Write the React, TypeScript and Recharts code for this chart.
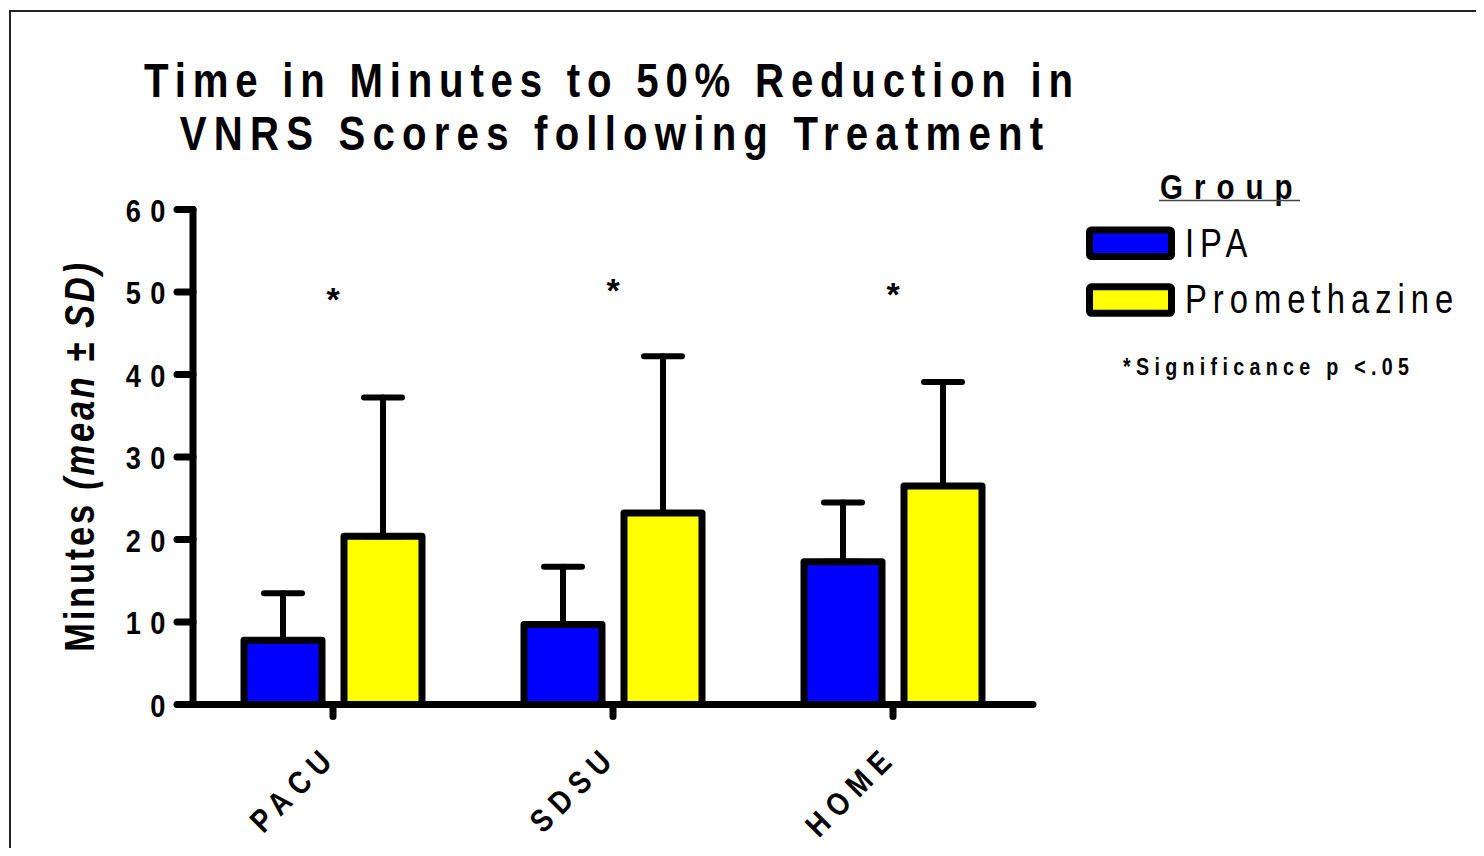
import React from "react";
import { ComposedChart, Bar, Line, XAxis, YAxis, ErrorBar } from "recharts";

const categories = ["PACU", "SDSU", "HOME"];
const ipaMean = [7.8, 9.7, 17.3];
const ipaSD = [5.7, 7.0, 7.2];
const promMean = [20.4, 23.2, 26.5];
const promSD = [16.8, 19.0, 12.6];
const starLevel = [50.0, 51.1, 50.6];
const yTicks = [0, 10, 20, 30, 40, 50, 60];

const data = categories.map((name, i) => ({
  name,
  ipa: ipaMean[i],
  ipaErr: [0, ipaSD[i]],
  prom: promMean[i],
  promErr: [0, promSD[i]],
  star: starLevel[i],
}));

const FONT = "'Liberation Sans', Arial, sans-serif";
const SX = 0.82; // the original uses a condensed face, squeeze Arial to match

const lineStyle = { stroke: "#000", strokeWidth: 7, strokeLinecap: "round" as const };

// condensed text: spacing is given in screen px and converted to pre-scale units
const CText = ({ x, y, rotate = 0, sx = SX, spacing = 0, children, ...rest }: any) => (
  <g transform={`translate(${x},${y}) rotate(${rotate}) scale(${sx},1)`}>
    <text x={0} y={0} fontFamily={FONT} fill="#000" letterSpacing={spacing / sx} {...rest}>
      {children}
    </text>
  </g>
);

const YTick = ({ x, y, payload }: any) => (
  <CText x={x - 2} y={y + 12} sx={0.85} spacing={9.5} textAnchor="end" fontWeight="bold" fontSize={32}>
    {payload.value}
  </CText>
);

const XTick = ({ x, y, payload }: any) => (
  <CText x={x + 6} y={y + 42} rotate={-45} sx={0.85} spacing={8} textAnchor="end" fontWeight="bold" fontSize={32}>
    {payload.value}
  </CText>
);

const Star = ({ cx, cy, index }: any) => (
  <text key={index} x={cx} y={cy + 19} textAnchor="middle" fontFamily={FONT} fontWeight="bold" fontSize={34} fill="#000">
    *
  </text>
);

export default function App() {
  return (
    <div style={{ position: "relative", width: 1476, height: 840, overflow: "hidden", background: "#fff" }}>
      <div style={{ position: "absolute", left: 1, top: 2, width: 1600, height: 1000, border: "2px solid #222" }} />
      <ComposedChart width={1476} height={840} data={data} margin={{ top: 201.5, right: 451, bottom: 43.5, left: 85 }} barGap={22}>
        <XAxis dataKey="name" height={100} interval={0} axisLine={lineStyle} tickLine={lineStyle} tickSize={12} tickMargin={0} tick={<XTick />} />
        <YAxis domain={[0, 60]} ticks={yTicks} interval={0} width={100} axisLine={lineStyle} tickLine={lineStyle} tickSize={16} tickMargin={0} tick={<YTick />} />
        <Bar dataKey="ipa" fill="#0000FF" stroke="#000" strokeWidth={7} strokeLinejoin="round" barSize={78} isAnimationActive={false}>
          <ErrorBar dataKey="ipaErr" direction="y" width={19} stroke="#000" strokeWidth={6} strokeLinecap="round" />
        </Bar>
        <Bar dataKey="prom" fill="#FFFF00" stroke="#000" strokeWidth={7} strokeLinejoin="round" barSize={78} isAnimationActive={false}>
          <ErrorBar dataKey="promErr" direction="y" width={19} stroke="#000" strokeWidth={6} strokeLinecap="round" />
        </Bar>
        <Line dataKey="star" stroke="none" dot={<Star />} activeDot={false} isAnimationActive={false} />
      </ComposedChart>
      <svg width={1476} height={840} style={{ position: "absolute", left: 0, top: 0, pointerEvents: "none" }}>
        <CText x={604} y={89} spacing={6.8} textAnchor="middle" fontWeight="bold" fontSize={49}>
          Time in Minutes to 50% Reduction in
        </CText>
        <CText x={607} y={142} spacing={7.2} textAnchor="middle" fontWeight="bold" fontSize={49}>
          VNRS Scores following Treatment
        </CText>
        <CText x={86} y={448} rotate={-90} spacing={2.8} textAnchor="middle" fontWeight="bold" fontSize={42}>
          <tspan>Minutes </tspan>
          <tspan fontStyle="italic">(mean ± SD)</tspan>
        </CText>
        <g transform="translate(1072,152)">
          <CText x={80} y={39} spacing={11} fontWeight="bold" fontSize={36}>Group</CText>
          <line x1={79} y1={40.5} x2={220} y2={40.5} stroke="#444" strokeWidth={1.5} />
          <rect x={9.5} y={70} width={82} height={26.5} rx={2} fill="#0000FF" stroke="#000" strokeWidth={7} />
          <CText x={105} y={96.7} spacing={6} fontSize={40}>IPA</CText>
          <rect x={9.5} y={126.8} width={82} height={26.5} rx={2} fill="#FFFF00" stroke="#000" strokeWidth={7} />
          <CText x={105} y={153.3} spacing={6} fontSize={40}>Promethazine</CText>
          <CText x={43} y={215} spacing={5.3} fontWeight="bold" fontSize={24}>*Significance p &lt;.05</CText>
        </g>
      </svg>
    </div>
  );
}
